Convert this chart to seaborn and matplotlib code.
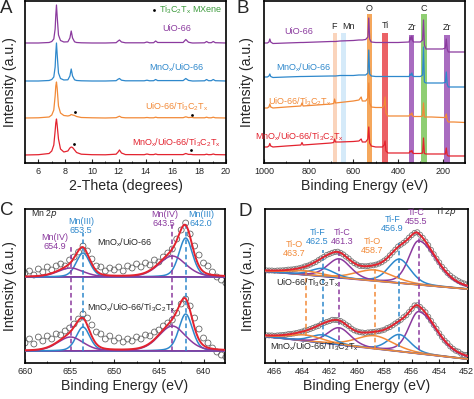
import numpy as np
import matplotlib
matplotlib.use("Agg")
import matplotlib.pyplot as plt
from matplotlib.ticker import MultipleLocator
import seaborn as sns

# ---------------- A: XRD (height above each pattern's own baseline) ----------------
TWO_THETA = [5.0, 6.0, 6.8, 7.0, 7.15, 7.25, 7.3, 7.35, 7.4, 7.5, 7.65, 7.9, 8.2, 8.35, 8.45,
             8.55, 8.7, 8.85, 9.2, 10.0, 11.0, 11.8, 11.95, 12.05, 12.2, 12.5, 13.9, 14.1, 14.3, 14.6,
             14.75, 14.9, 16.8, 17.0, 17.2, 17.4, 17.5, 17.6, 18.4, 18.55, 18.7, 18.9, 19.05, 19.2, 20.0]
XRD_UIO = [0, 0, 0.5, 1.5, 4, 14, 28, 38, 27, 8, 2.5, 1, 1.2, 5, 12,
           5, 1.2, 0.5, 0.2, 0, 0, 0.3, 2, 3, 1, 0.2, 0.2, 1, 0.2, 0.3,
           2, 0.5, 0.5, 3.5, 0.8, 0.2, 0, 0, 0.2, 1.5, 0.3, 0.3, 1.5, 0.3, 0]
XRD_MN_UIO = [0, 0, 0.5, 1.5, 4, 14, 28, 38, 27, 8, 2.5, 1, 1.2, 5, 12,
              5, 1.2, 0.5, 0.2, 0, 0, 0.3, 1.8, 2.5, 0.8, 0.2, 0.2, 0.8, 0.2, 0.3,
              1.5, 0.4, 0.4, 2.5, 0.6, 0.2, 0, 0, 0.2, 1.5, 0.3, 0.3, 1.5, 0.3, 0]
XRD_UIO_TI = [0, 0.2, 1, 3, 8, 22, 32, 36, 30, 12, 5, 2.5, 2, 2.5, 3.5,
              3, 2.5, 1.5, 0.5, 0.2, 0, 0.3, 1.2, 1.8, 0.6, 0.2, 0.2, 0.5, 0.2, 0.2,
              0.8, 0.3, 0.3, 1.2, 0.4, 0.6, 0.5, 0.2, 0.2, 0.8, 0.2, 0.2, 0.8, 0.2, 0]
XRD_MN_UIO_TI = [0, 0.3, 1.5, 4, 10, 24, 32, 36, 30, 16, 6, 3, 4, 7, 8,
                 7.5, 5, 2.5, 0.8, 0.3, 0.2, 0.8, 3, 5, 2, 0.4, 0.3, 1, 0.4, 0.4,
                 1, 0.4, 0.4, 1.5, 0.6, 0.6, 0.4, 0.3, 0.3, 0.8, 0.3, 0.4, 1, 0.4, 0.2]
# Ti3C2Tx MXene reflections marked with a dot
MXENE_2THETA_UIO_TI = [8.72, 17.5]
MXENE_HEIGHT_UIO_TI = [5.5, 3.0]
MXENE_2THETA_MN_UIO_TI = [8.65, 17.4]
MXENE_HEIGHT_MN_UIO_TI = [10.5, 4.5]

# ---------------- B: XPS survey (relative to the low-BE end) ----------------
SURVEY_BE = [1000, 985, 978, 974, 970, 960, 900, 835, 830, 825, 700, 688, 684, 680, 660,
             600, 575, 565, 560, 545, 535, 531, 527, 520, 500, 470, 462, 458, 454, 445,
             400, 350, 346, 342, 338, 334, 330, 300, 290, 286, 282, 275, 250, 200, 188,
             184, 180, 175, 150, 100]
SURVEY_UIO = [9, 9, 10, 13, 10, 8.5, 9, 9.5, 9.5, 9.5, 10.5, 10.5, 10.5, 10.5, 11,
              11.5, 12, 12, 12, 12.5, 15, 34, 13, 10, 9.5, 9.5, 9.5, 9.5, 9.5, 9.5,
              9.5, 10, 15, 12, 16, 11, 10, 10, 12, 32, 7, 3, 3, 3, 4,
              13, 3, 0, 0, 0]
SURVEY_MN_UIO = [10, 10, 11, 13, 10.5, 9.5, 10, 10.5, 10.5, 10.5, 11, 11, 11, 11, 11.5,
                 11.5, 12, 12, 12, 12, 14, 37, 13, 11, 10.5, 10.5, 10.5, 10.5, 10.5, 10.5,
                 10.5, 10.5, 13, 11.5, 14, 11, 10.5, 10.5, 12, 40, 5, 4, 4, 4, 4.5,
                 15, 3, 0, 0, 0]
SURVEY_UIO_TI = [15, 15, 16, 19, 16, 15, 16, 17, 20, 17, 19, 19.5, 24, 20, 20.5,
                 22, 23, 26, 22, 22, 25, 40, 20, 16, 15.5, 15.5, 18, 26, 10, 7,
                 7, 7, 9, 8, 10, 7, 6.5, 6.5, 7, 20, 6, 6, 6, 5.5, 5.5,
                 9, 3, 1, 1, 0.5]
SURVEY_MN_UIO_TI = [9, 9, 10, 12.5, 10, 9, 10, 11, 13.5, 11, 13, 13.5, 17, 14, 14,
                    14.5, 15, 17, 14, 14, 17, 29, 13, 10, 9, 9, 11, 15, 5, 3,
                    3, 3, 5, 4, 5.5, 3, 2.5, 2.5, 3, 18, 2.5, 2, 2, 2, 2,
                    8, 1, 0, 0, 0]
BAND_LABELS = ["F", "Mn", "O", "Ti", "Zr", "C", "Zr"]
BAND_LOW = [673, 634, 515, 445, 327, 271, 167]
BAND_HIGH = [692, 655, 540, 470, 351, 296, 193]

# ---------------- C: Mn 2p fits (center eV, height, FWHM) ----------------
MN_STATES = ["Mn(III)", "Mn(IV)", "Mn(III)", "Mn(IV)"]
MN_CENTERS = [642.0, 643.5, 653.5, 654.9]
MN_WIDTHS = [1.8, 3.6, 1.8, 3.4]
MN_HEIGHTS_MN_UIO = [39, 21, 24, 9]
MN_HEIGHTS_MN_UIO_TI = [37, 25, 24, 14]
MN_BASE_MN_UIO = 86
MN_BASE_MN_UIO_TI = 12
MN_BE = np.arange(660, 637.4, -0.5)
MN_DATA_MN_UIO = [90, 92, 88, 94, 91, 96, 93, 97, 99, 97, 103, 106, 111, 117, 112, 104,
                  97, 96, 92, 95, 93, 96, 92, 97, 95, 99, 96, 100, 98, 103, 101, 106,
                  110, 114, 124, 133, 140, 129, 117, 108, 100, 97, 91, 86, 83, 80]
MN_DATA_MN_UIO_TI = [20, 24, 19, 26, 22, 27, 24, 29, 28, 32, 35, 39, 44, 49, 45, 38,
                     31, 29, 24, 27, 22, 25, 21, 24, 22, 26, 24, 28, 27, 31, 33, 37,
                     40, 43, 50, 59, 64, 57, 45, 34, 25, 20, 15, 11, 8, 6]

# ---------------- D: Ti 2p fits ----------------
TI_BONDS = ["Ti-C", "Ti-F", "Ti-O", "Ti-C", "Ti-F", "Ti-O"]
TI_CENTERS = [455.5, 456.9, 458.7, 461.3, 462.5, 463.7]
TI_WIDTHS = [1.7, 1.9, 3.2, 2.0, 2.0, 3.0]
TI_TAILS = [1.8, 1.0, 1.0, 1.0, 1.0, 1.0]
TI_HEIGHTS_UIO_TI = [44, 24, 11, 19, 8, 4]
TI_HEIGHTS_MN_UIO_TI = [42, 17, 13, 17, 8, 6]
TI_BG_BE = [452, 467]
TI_BG_UIO_TI = [74, 92]
TI_BG_MN_UIO_TI = [4, 27]
TI_BE = np.round(np.arange(466.6, 451.95, -0.2), 1)
TI_DATA_UIO_TI = [92.6, 92.5, 92.5, 92.2, 92.5, 92.6, 92.7, 92.9, 93.4, 93.5, 93.8, 94.3, 94.8, 95.5, 96.6,
                  97.3, 98.4, 99.8, 101.0, 102.9, 104.6, 106.2, 108.1, 109.1, 110.2, 111.0, 111.3, 110.2,
                  108.6, 106.4, 104.5, 101.8, 99.9, 98.4, 97.1, 96.9, 96.7, 96.9, 97.5, 97.7, 98.4, 99.4,
                  100.7, 102.5, 104.6, 107.6, 110.5, 113.4, 116.5, 118.3, 120.2, 122.4, 125.4, 127.9, 130.1,
                  130.8, 128.3, 125.2, 121.5, 117.8, 113.2, 108.8, 104.4, 100.6, 96.3, 93.2, 90.0, 87.5,
                  85.4, 83.6, 82.0, 80.5, 79.6, 78.6]
TI_DATA_MN_UIO_TI = [27.7, 27.6, 27.6, 27.2, 27.6, 27.8, 28.0, 28.3, 28.9, 29.1, 29.5, 30.1, 30.7, 31.4, 32.5,
                     33.0, 34.0, 35.1, 36.3, 37.1, 38.9, 40.1, 41.1, 41.9, 43.2, 43.1, 42.9, 42.0, 40.5,
                     38.5, 36.9, 34.4, 32.7, 31.6, 30.8, 30.5, 30.0, 30.6, 30.8, 31.1, 31.5, 31.8, 32.5,
                     33.3, 34.9, 35.9, 37.6, 39.5, 41.3, 43.2, 45.8, 47.7, 50.9, 54.2, 57.6, 57.8, 56.1,
                     53.4, 50.8, 46.3, 42.2, 38.0, 34.3, 29.7, 25.9, 22.4, 19.9, 16.6, 14.3, 12.3, 11.4,
                     9.3, 8.2, 8.0]

SAMPLES = ["UiO-66", "MnO$_x$/UiO-66", "UiO-66/Ti$_3$C$_2$T$_x$", "MnO$_x$/UiO-66/Ti$_3$C$_2$T$_x$"]
PURPLE, BLUE, ORANGE, RED = "#8b3a9e", "#2e88cc", "#f28a38", "#e3232f"
SAMPLE_COLORS = [PURPLE, BLUE, ORANGE, RED]


def peak(x, c, h, w, tail=1.0, eta=0.3):
    # pseudo-Voigt fit component, wider on the low-BE side when tail > 1
    w = np.where(x < c, w * tail, w)
    d = (x - c) / w
    return h * (eta / (1 + 4 * d ** 2) + (1 - eta) * np.exp(-4 * np.log(2) * d ** 2))


def style_axis(ax, xlim, ylim, major, minor, xlabel, ylabelpad):
    ax.set_xlim(*xlim)
    ax.set_ylim(*ylim)
    ax.set_yticks([])
    ax.xaxis.set_major_locator(MultipleLocator(major))
    ax.xaxis.set_minor_locator(MultipleLocator(minor))
    ax.tick_params(axis="x", which="major", direction="in", length=3, width=0.8,
                   labelsize=6.5, pad=3)
    ax.tick_params(axis="x", which="minor", direction="in", length=1.6, width=0.6)
    ax.set_xlabel(xlabel, fontsize=10.2, labelpad=2)
    ax.set_ylabel("Intensity (a.u.)", fontsize=10.2, labelpad=ylabelpad)
    for s in ax.spines.values():
        s.set_linewidth(1.2)
        s.set_color("black")


sns.set_theme(style="ticks")
plt.rcParams["font.family"] = ["Liberation Sans", "DejaVu Sans"]
plt.rcParams["mathtext.default"] = "regular"

fig = plt.figure(figsize=(4.74, 3.99), dpi=100)
ax_a = fig.add_axes([0.0527, 0.5915, 0.4241, 0.4060])
ax_b = fig.add_axes([0.5570, 0.5915, 0.4241, 0.4060])
ax_c = fig.add_axes([0.0527, 0.0902, 0.4219, 0.3860])
ax_d = fig.add_axes([0.5591, 0.0902, 0.4283, 0.3860])

# ---- A ----
xrd_offsets = [120, 82, 45, 8]
xrd_label_y = [134, 95, 56, 20]
for counts, off, color, name, ly in zip([XRD_UIO, XRD_MN_UIO, XRD_UIO_TI, XRD_MN_UIO_TI],
                                        xrd_offsets, SAMPLE_COLORS, SAMPLES, xrd_label_y):
    sns.lineplot(x=TWO_THETA, y=np.array(counts) + off, ax=ax_a, color=color, lw=0.9,
                 estimator=None, sort=False)
    ax_a.text(16.3, ly, name, color=color, fontsize=6.5, ha="center", va="center")
sns.scatterplot(x=MXENE_2THETA_UIO_TI, y=np.array(MXENE_HEIGHT_UIO_TI) + xrd_offsets[2],
                ax=ax_a, color="black", s=4, linewidth=0)
sns.scatterplot(x=MXENE_2THETA_MN_UIO_TI, y=np.array(MXENE_HEIGHT_MN_UIO_TI) + xrd_offsets[3],
                ax=ax_a, color="black", s=4, linewidth=0)
ax_a.scatter([14.6], [153], color="black", s=4, linewidth=0)
ax_a.text(15.0, 153, "Ti$_3$C$_2$T$_x$ MXene", color="#3c9a3c", fontsize=6.5, va="center")
style_axis(ax_a, (5, 20), (0, 162), 2, 1, "2-Theta (degrees)", 6)

# ---- B ----
band_colors = ["#f9c3a0", "#c4e2f7", "#f4983f", "#e8474b", "#9a52b5", "#7cc65a", "#9a52b5"]
band_alpha = [0.7, 0.7, 0.85, 0.85, 0.85, 0.85, 0.85]
band_top = [0.80, 0.80, 0.92, 0.80, 0.79, 0.92, 0.79]
band_text_x = [686, 622, 528, 457, 339, 284, 180]
band_text_y = [136, 136, 154, 137, 135, 154, 135]
for lab, lo, hi, c, a, top, tx, ty in zip(BAND_LABELS, BAND_LOW, BAND_HIGH, band_colors,
                                          band_alpha, band_top, band_text_x, band_text_y):
    ax_b.axvspan(lo, hi, ymin=0, ymax=top, color=c, alpha=a, lw=0, zorder=0)
    ax_b.text(tx, ty, lab, fontsize=6.5, ha="center", va="center")
survey_offsets = [111, 76, 40, 7]
survey_label_y = [131, 95, 61, 26]
survey_label_x = [843, 821, 839, 843]
for counts, off, color, name, lx, ly in zip([SURVEY_UIO, SURVEY_MN_UIO, SURVEY_UIO_TI, SURVEY_MN_UIO_TI],
                                            survey_offsets, SAMPLE_COLORS, SAMPLES,
                                            survey_label_x, survey_label_y):
    sns.lineplot(x=SURVEY_BE, y=np.array(counts) + off, ax=ax_b, color=color, lw=0.9,
                 estimator=None, sort=False)
    ax_b.text(lx, ly, name, color=color, fontsize=6.5, ha="center", va="center")
style_axis(ax_b, (1000, 100), (0, 162), 200, 100, "Binding Energy (eV)", 7)

# ---- C ----
e_c = np.linspace(660, 637.5, 400)
mn_colors = [BLUE, PURPLE, BLUE, PURPLE]
for heights, base, data in [(MN_HEIGHTS_MN_UIO, MN_BASE_MN_UIO, MN_DATA_MN_UIO),
                            (MN_HEIGHTS_MN_UIO_TI, MN_BASE_MN_UIO_TI, MN_DATA_MN_UIO_TI)]:
    sns.scatterplot(x=MN_BE, y=data, ax=ax_c, s=18, facecolor="none", edgecolor="#666666",
                    linewidth=0.6, zorder=2)
    sns.lineplot(x=e_c, y=np.full_like(e_c, base), ax=ax_c, color=PURPLE, lw=1.2, zorder=3)
    total = np.full_like(e_c, float(base))
    for c, h, w, col in zip(MN_CENTERS, heights, MN_WIDTHS, mn_colors):
        comp = peak(e_c, c, h, w)
        total += comp
        sns.lineplot(x=e_c, y=base + comp, ax=ax_c, color=col, lw=1.1, zorder=3)
    sns.lineplot(x=e_c, y=total, ax=ax_c, color=RED, lw=1.4, zorder=4)
mn_dash_top = [140, 140, 130, 116]
for c, col, top in zip(MN_CENTERS, mn_colors, mn_dash_top):
    ax_c.vlines(c, 12, top, colors=col, linestyles=(0, (3, 2)), lw=1.1, zorder=3)
mn_label_x = [640.3, 644.4, 653.7, 656.7]
mn_label_y = [143.5, 143.5, 136.5, 121]
for state, c, col, lx, ly in zip(MN_STATES, MN_CENTERS, mn_colors, mn_label_x, mn_label_y):
    ax_c.text(lx, ly, f"{state}\n{c:.1f}", color=col, fontsize=6.5, ha="center", va="center",
              linespacing=1.0)
ax_c.text(659.3, 149, "Mn 2$\\it{p}$", fontsize=6.3, va="center")
ax_c.text(648.8, 120, SAMPLES[1], fontsize=6.5, ha="center", va="center")
ax_c.text(648.1, 55, SAMPLES[3], fontsize=6.5, ha="center", va="center")
style_axis(ax_c, (660, 637.6), (0, 154), 5, 2.5, "Binding Energy (eV)", 6)

# ---- D ----
e_d = np.linspace(467, 451.8, 400)
ti_colors = [PURPLE, BLUE, ORANGE, PURPLE, BLUE, ORANGE]
for heights, bgv, data in [(TI_HEIGHTS_UIO_TI, TI_BG_UIO_TI, TI_DATA_UIO_TI),
                           (TI_HEIGHTS_MN_UIO_TI, TI_BG_MN_UIO_TI, TI_DATA_MN_UIO_TI)]:
    sns.scatterplot(x=TI_BE, y=data, ax=ax_d, s=13, facecolor="none", edgecolor="#777777",
                    linewidth=0.6, zorder=2)
    bg = np.interp(e_d, TI_BG_BE, bgv)
    sns.lineplot(x=e_d, y=bg, ax=ax_d, color=PURPLE, lw=1.2, zorder=3)
    total = bg.copy()
    for c, h, w, t, col in zip(TI_CENTERS, heights, TI_WIDTHS, TI_TAILS, ti_colors):
        comp = peak(e_d, c, h, w, t)
        total += comp
        sns.lineplot(x=e_d, y=bg + comp, ax=ax_d, color=col, lw=1.1, zorder=3)
    sns.lineplot(x=e_d, y=total, ax=ax_d, color=RED, lw=1.4, zorder=4)
ti_dash_top = [130, 123, 98, 113, 113, 97]
ti_dash_bottom = [13, 16, 13, 23, 26, 27]
for c, col, lo, hi in zip(TI_CENTERS, ti_colors, ti_dash_bottom, ti_dash_top):
    ax_d.vlines(c, lo, hi, colors=col, linestyles=(0, (3, 2)), lw=1.1, zorder=3)
ti_label_x = [455.7, 457.4, 458.9, 461.1, 462.9, 464.6]
ti_label_y = [146, 138.5, 116.5, 125.5, 125.5, 113.5]
for bond, c, col, lx, ly in zip(TI_BONDS, TI_CENTERS, ti_colors, ti_label_x, ti_label_y):
    ax_d.text(lx, ly, f"{bond}\n{c:.1f}", color=col, fontsize=6.5, ha="center", va="center",
              linespacing=1.0)
ax_d.text(453.5, 151, "Ti 2$\\it{p}$", fontsize=6.3, ha="center", va="center")
ax_d.text(463.6, 80, SAMPLES[2], fontsize=6.5, ha="center", va="center")
ax_d.text(466.35, 16, SAMPLES[3], fontsize=6.5, ha="left", va="center")
style_axis(ax_d, (466.7, 451.9), (0, 154), 2, 1, "Binding Energy (eV)", 7)

for ax in (ax_a, ax_b, ax_c, ax_d):
    if ax.get_legend() is not None:
        ax.get_legend().remove()

for lab, x, y in [("A", 0.0, 1 - 13 / 399), ("B", 237 / 474, 1 - 13 / 399),
                  ("C", 0.0, 1 - 215 / 399), ("D", 239 / 474, 1 - 216 / 399)]:
    fig.text(x, y, lab, fontsize=13.5, ha="left", va="baseline")

fig.savefig("out.png", dpi=100)
